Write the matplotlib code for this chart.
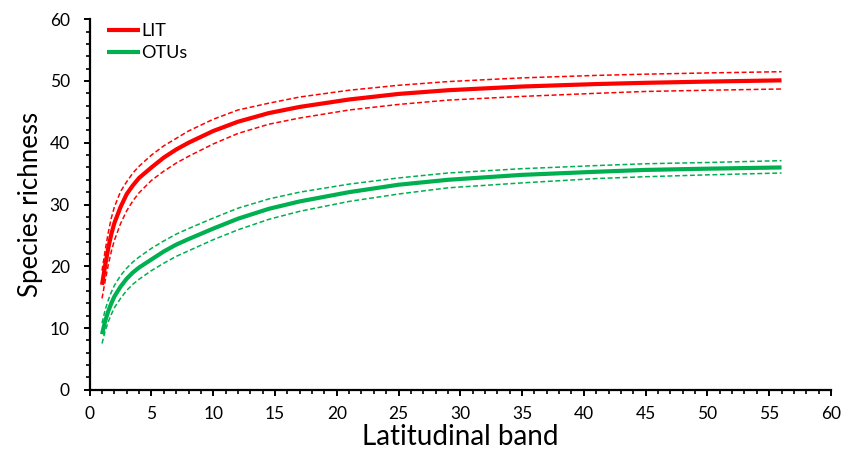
import matplotlib
matplotlib.use('Agg')
import matplotlib.pyplot as plt
from matplotlib.ticker import MultipleLocator

plt.rcParams['font.family'] = ['Lato', 'DejaVu Sans']

# values
band = [1, 1.25, 1.5, 1.75, 2, 2.5, 3, 3.5, 4, 5, 6, 7, 8, 10, 12, 14.5, 17, 21, 25, 29, 35, 41, 45, 50, 56]

lit_mean = [17.0, 20.1, 22.9, 25.2, 27.0, 29.6, 31.7, 33.1, 34.3, 36.0, 37.6, 38.9, 40.0, 41.9, 43.4, 44.8,
            45.8, 47.0, 47.9, 48.5, 49.1, 49.5, 49.7, 49.9, 50.1]
lit_upper = [19.3, 22.5, 25.4, 27.8, 29.6, 32.1, 33.7, 35.1, 36.2, 38.0, 39.5, 40.7, 41.9, 43.8, 45.3, 46.4,
             47.4, 48.5, 49.3, 49.9, 50.5, 50.9, 51.1, 51.3, 51.5]
lit_lower = [14.8, 17.6, 20.2, 22.4, 24.2, 26.9, 29.0, 30.6, 31.9, 33.9, 35.4, 36.7, 37.8, 39.8, 41.5, 43.0,
             44.0, 45.3, 46.2, 46.9, 47.5, 48.0, 48.3, 48.5, 48.7]

otu_mean = [9.0, 11.1, 12.7, 14.0, 15.1, 16.7, 18.0, 19.0, 19.8, 21.1, 22.4, 23.5, 24.4, 26.1, 27.7, 29.3,
            30.5, 32.0, 33.2, 34.0, 34.8, 35.3, 35.6, 35.8, 36.0]
otu_upper = [10.8, 12.9, 14.5, 15.8, 16.9, 18.5, 19.7, 20.7, 21.5, 22.9, 24.1, 25.2, 26.1, 27.8, 29.4, 30.9,
             32.0, 33.3, 34.3, 35.1, 35.8, 36.3, 36.6, 36.8, 37.1]
otu_lower = [7.5, 9.5, 11.0, 12.2, 13.3, 14.8, 16.1, 17.1, 17.9, 19.3, 20.5, 21.6, 22.5, 24.3, 25.9, 27.6,
             28.9, 30.5, 31.7, 32.7, 33.5, 34.2, 34.5, 34.8, 35.1]

red = '#FF0000'
green = '#00B050'

fig = plt.figure(figsize=(8.54, 4.57), dpi=100)
ax = fig.add_axes([0.105, 0.147, 0.868, 0.811])

dash = (0, (3.2, 1.7))
ax.plot(band, lit_mean, color=red, lw=3.0, label='LIT', solid_capstyle='butt')
ax.plot(band, lit_upper, color=red, lw=1.1, ls=dash)
ax.plot(band, lit_lower, color=red, lw=1.1, ls=dash)
ax.plot(band, otu_mean, color=green, lw=3.0, label='OTUs', solid_capstyle='butt')
ax.plot(band, otu_upper, color=green, lw=1.1, ls=dash)
ax.plot(band, otu_lower, color=green, lw=1.1, ls=dash)

ax.set_xlim(0, 60)
ax.set_ylim(0, 60)
ax.xaxis.set_major_locator(MultipleLocator(5))
ax.xaxis.set_minor_locator(MultipleLocator(1))
ax.yaxis.set_major_locator(MultipleLocator(10))
ax.yaxis.set_minor_locator(MultipleLocator(2))

for s in ['top', 'right']:
    ax.spines[s].set_visible(False)
for s in ['left', 'bottom']:
    ax.spines[s].set_linewidth(1.6)

ax.tick_params(which='major', direction='out', length=4.3, width=1.4, labelsize=12.5)
ax.tick_params(which='minor', direction='out', length=2.6, width=1.2)
ax.tick_params(axis='x', which='major', pad=7)
ax.tick_params(axis='y', which='major', pad=10)

ax.set_xlabel('Latitudinal band', fontsize=20, labelpad=2)
ax.set_ylabel('Species richness', fontsize=18.5, labelpad=5)

leg = ax.legend(loc='upper left', bbox_to_anchor=(0.023, 0.99), frameon=False,
                fontsize=13, handlelength=1.85, handletextpad=0.05, labelspacing=0.36,
                borderpad=0, borderaxespad=0)

fig.savefig('out.png', dpi=100)
